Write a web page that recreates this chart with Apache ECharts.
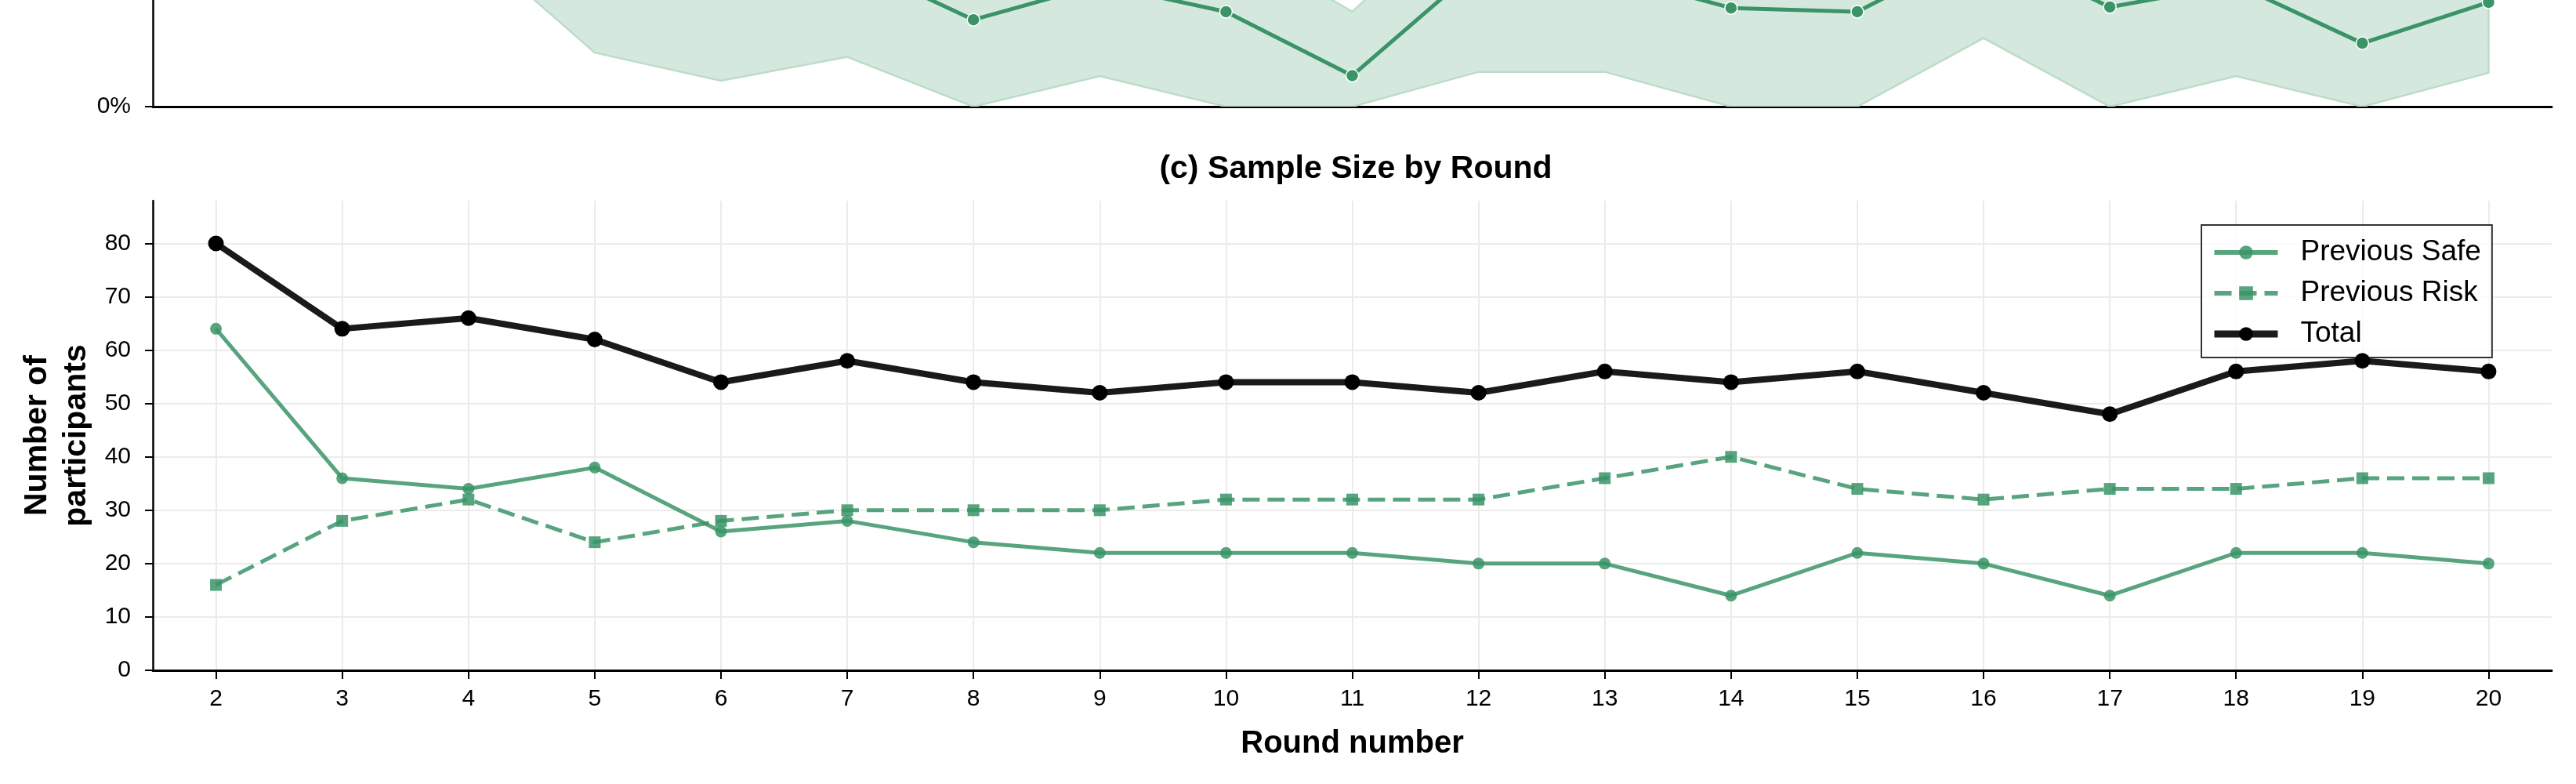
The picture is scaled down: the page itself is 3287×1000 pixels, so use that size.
<!DOCTYPE html>
<html>
<head>
<meta charset="utf-8">
<title>Sample Size by Round</title>
<script src="https://cdn.jsdelivr.net/npm/echarts@6/dist/echarts.min.js"></script>
<style>
  html, body { margin: 0; padding: 0; background: #fff; }
  #chart { width: 3287px; height: 1000px; }
</style>
</head>
<body>
<div id="chart"></div>
<script>
// x axis: round numbers
const rounds = [2, 3, 4, 5, 6, 7, 8, 9, 10, 11, 12, 13, 14, 15, 16, 17, 18, 19, 20];

// panel (c): participants per round
const prevSafe = [64, 36, 34, 38, 26, 28, 24, 22, 22, 22, 20, 20, 14, 22, 20, 14, 22, 22, 20];
const prevRisk = [16, 28, 32, 24, 28, 30, 30, 30, 32, 32, 32, 36, 40, 34, 32, 34, 34, 36, 36];
const total = [80, 64, 66, 62, 54, 58, 54, 52, 54, 54, 52, 56, 54, 56, 52, 48, 56, 58, 56];
const countTicks = [0, 10, 20, 30, 40, 50, 60, 70, 80];

// panel (b), only its bottom strip is in the picture (values in %)
const meanPct = [40, 36, 34, 32, 30, 31, 18.5, 26, 20.2, 6.6, 29.8, 28.3, 21, 20.2, 34, 21.2, 26, 13.5, 22.2];
const bandLow = [45, 40, 35, 11.5, 5.5, 10.6, 0, 6.5, 0, 0, 7.4, 7.4, 0, 0, 14.6, 0, 6.5, 0, 7.2];
const bandHigh = [55, 50, 50, 48, 46, 47, 36, 42, 36, 20.2, 45, 44, 37, 36, 50, 37, 42, 29, 37];
const pctTicks = [0];
// visible part of panel (b): 0% .. ~22.7%
const pctVisibleMax = 22.7;

const green = '#3a9467';
const font = 'Liberation Sans, Arial, sans-serif';

function pairs(xs, ys) {
  return xs.map((x, i) => [x, ys[i]]);
}

// whole band drawn once, from the first item, as one polygon
function renderBand(params, api) {
  if (params.dataIndexInside !== 0) return;
  const n = params.dataInsideLength;
  const lower = [];
  const upper = [];
  for (let i = 0; i < n; i++) {
    lower.push(api.coord([api.value(0, i), api.value(1, i)]));
    upper.push(api.coord([api.value(0, i), api.value(2, i)]));
  }
  const outline = lower.concat(upper.slice().reverse());
  return {
    type: 'group',
    children: [
      { type: 'polygon', shape: { points: outline }, style: { fill: '#d5e8dd', stroke: '#bcdcc9', lineWidth: 2.5 } }
    ]
  };
}

const chart = echarts.init(document.getElementById('chart'));

chart.setOption({
  animation: false,
  backgroundColor: '#fff',
  textStyle: { fontFamily: font, color: '#000' },
  title: {
    text: '(c) Sample Size by Round',
    left: 1725,
    top: 190,
    textAlign: 'center',
    textStyle: { fontFamily: font, fontSize: 41, fontWeight: 'bold', color: '#000' }
  },
  legend: {
    data: [
      { name: 'Previous Safe', lineStyle: { width: 6 } },
      { name: 'Previous Risk', lineStyle: { width: 6 } },
      { name: 'Total', lineStyle: { width: 9 } }
    ],
    orient: 'vertical',
    left: 2809,
    top: 287,
    padding: [9, 14, 4, 12],
    itemWidth: 81,
    itemHeight: 22,
    itemGap: 0,
    backgroundColor: 'rgba(255,255,255,0.8)',
    borderColor: '#333',
    borderWidth: 2,
    borderRadius: 0,
    textStyle: { fontFamily: font, fontSize: 37, color: '#000', lineHeight: 52, padding: [0, 0, 0, 24] }
  },
  grid: [
    { left: 195, right: 31, top: 0, height: 136 },
    { left: 195, right: 31, top: 256, height: 599 }
  ],
  xAxis: [
    {
      type: 'value', gridIndex: 0, min: 1.5, max: 20.5,
      axisLine: { lineStyle: { color: '#000', width: 3 } },
      axisTick: { show: false },
      axisLabel: { show: false },
      splitLine: { show: false }
    },
    {
      type: 'value', gridIndex: 1, min: 1.5, max: 20.5,
      name: 'Round number',
      nameLocation: 'middle',
      nameGap: 74,
      nameTextStyle: { fontFamily: font, fontSize: 40, fontWeight: 'bold', color: '#000' },
      axisLine: { lineStyle: { color: '#000', width: 3 } },
      axisTick: { customValues: rounds, length: 11, lineStyle: { color: '#000', width: 2 } },
      axisLabel: { customValues: rounds, fontSize: 30, color: '#000', margin: 22, fontFamily: font },
      splitLine: { show: true, lineStyle: { color: '#ebebeb', width: 2 } }
    }
  ],
  yAxis: [
    {
      type: 'value', gridIndex: 0, min: 0, max: pctVisibleMax,
      axisLine: { show: true, lineStyle: { color: '#000', width: 2.5 } },
      axisTick: { show: true, customValues: pctTicks, length: 10, lineStyle: { color: '#000', width: 2 } },
      axisLabel: { customValues: pctTicks, formatter: '{value}%', fontSize: 30, color: '#000', margin: 28, fontFamily: font },
      splitLine: { show: false }
    },
    {
      type: 'value', gridIndex: 1, min: 0, max: 88,
      name: 'Number of\nparticipants',
      nameLocation: 'middle',
      nameGap: 72,
      nameRotate: 90,
      nameTextStyle: { fontFamily: font, fontSize: 41, fontWeight: 'bold', color: '#000', lineHeight: 50 },
      axisLine: { show: true, lineStyle: { color: '#000', width: 2.5 } },
      axisTick: { show: true, customValues: countTicks, length: 10, lineStyle: { color: '#000', width: 2 } },
      axisLabel: { customValues: countTicks, fontSize: 30, color: '#000', margin: 28, fontFamily: font },
      splitLine: { show: true, lineStyle: { color: '#ebebeb', width: 2 } }
    }
  ],
  series: [
    // band in panel (b)
    {
      name: 'band', type: 'custom', xAxisIndex: 0, yAxisIndex: 0,
      clip: true,
      renderItem: renderBand,
      data: rounds.map((r, i) => [r, bandLow[i], bandHigh[i]]),
      z: 1
    },
    {
      name: 'mean', type: 'line', xAxisIndex: 0, yAxisIndex: 0,
      data: pairs(rounds, meanPct),
      symbol: 'circle', symbolSize: 16,
      itemStyle: { color: green, borderColor: '#fff', borderWidth: 1.5 },
      lineStyle: { color: green, width: 5 },
      z: 3
    },
    // panel (c)
    {
      name: 'Previous Safe', type: 'line', xAxisIndex: 1, yAxisIndex: 1,
      data: pairs(rounds, prevSafe),
      symbol: 'circle', symbolSize: 15,
      itemStyle: { color: green, opacity: 0.85 },
      lineStyle: { color: green, width: 5, opacity: 0.85 },
      z: 3
    },
    {
      name: 'Previous Risk', type: 'line', xAxisIndex: 1, yAxisIndex: 1,
      data: pairs(rounds, prevRisk),
      symbol: 'rect', symbolSize: 15,
      itemStyle: { color: green, opacity: 0.85 },
      lineStyle: { color: green, width: 5, type: [22, 10], opacity: 0.85 },
      z: 3
    },
    {
      name: 'Total', type: 'line', xAxisIndex: 1, yAxisIndex: 1,
      data: pairs(rounds, total),
      symbol: 'circle', symbolSize: 20,
      itemStyle: { color: '#000' },
      lineStyle: { color: '#1a1a1a', width: 8 },
      z: 4
    }
  ]
});
</script>
</body>
</html>
